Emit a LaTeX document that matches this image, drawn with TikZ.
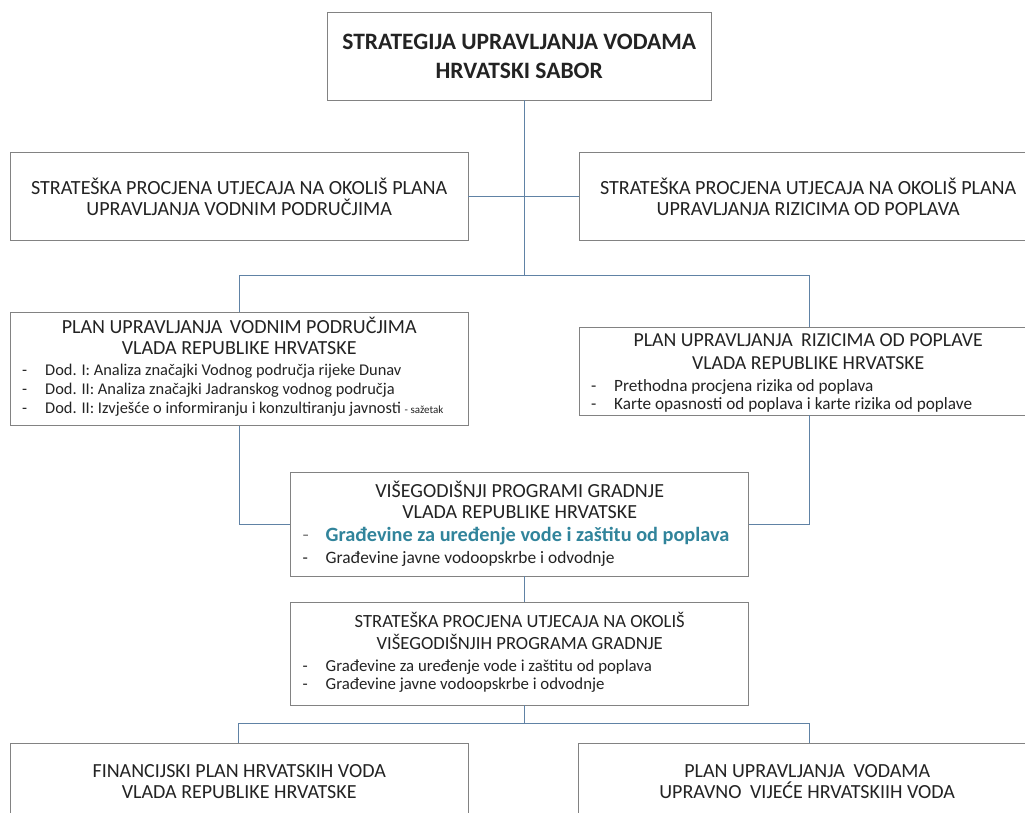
\documentclass[tikz,border=0pt]{standalone}
\usepackage{fontspec}
\setmainfont{Carlito}
\definecolor{boxgray}{RGB}{130,130,130}
\definecolor{linkblue}{RGB}{96,130,165}
\definecolor{txt}{RGB}{35,35,35}
\definecolor{tealtxt}{RGB}{49,132,155}
\newcommand{\bitem}[1]{\par\noindent\hspace*{2pt}\makebox[23pt][l]{-}#1}
\newcommand{\tblock}[2]{\vtop{\hsize=#1\parindent=0pt\parskip=0pt #2\par}}
\tikzset{
  box/.style={draw=boxgray, line width=0.9pt, fill=white, inner sep=0pt,
    minimum width=458pt, minimum height=88pt},
  lbl/.style={inner sep=0pt, anchor=base west, text=txt},
  link/.style={draw=linkblue, line width=0.9pt}
}
\begin{document}
\begin{tikzpicture}[x=1pt,y=-1pt]
\useasboundingbox (0,0) rectangle (1025,812);
\fill[white] (0,0) rectangle (1025,812);
\clip (0,0) rectangle (1025,812);
\coordinate (sp) at (524,0);
\coordinate (h1) at (524,275);
\coordinate (h1l) at (239,275);
\coordinate (h1r) at (809,275);
\coordinate (m1l) at (239,524);
\coordinate (m1r) at (809,524);
\coordinate (h2) at (524,723);
\coordinate (h2l) at (238,723);
\coordinate (h2r) at (809,723);

% boxes
\node[box, minimum width=384pt] (top) at (519,56) {};
\node[box] (sl) at (239,196) {};
\node[box] (sr) at (808,196) {};
\node[box, minimum height=113pt] (pl) at (239,369) {};
\node[box] (pr) at (808,371) {};
\node[box, minimum height=104pt] (vp) at (519.5,524) {};
\node[box, minimum height=103pt] (sv) at (519.5,653.5) {};
\node[box] (fp) at (239,787) {};
\node[box] (pv) at (807,787) {};

% texts
\node[lbl] (ttop) at (337,49) {\tblock{364pt}{\centering\fontsize{23.5}{29}\selectfont\bfseries
  STRATEGIJA UPRAVLJANJA VODAMA\\HRVATSKI SABOR}};

\node[lbl] (tsl) at (20,194) {\tblock{438pt}{\centering\fontsize{20.1}{21}\selectfont
  STRATEŠKA PROCJENA UTJECAJA NA OKOLIŠ PLANA\\UPRAVLJANJA VODNIM PODRUČJIMA}};
\node[lbl] (tsr) at (589,194) {\tblock{438pt}{\centering\fontsize{20.1}{21}\selectfont
  STRATEŠKA PROCJENA UTJECAJA NA OKOLIŠ PLANA\\UPRAVLJANJA RIZICIMA OD POPLAVA}};

\node[lbl] (tpl) at (20,333) {\tblock{438pt}{{\centering\fontsize{20}{21}\selectfont
  PLAN UPRAVLJANJA\hspace{3pt} VODNIM PODRUČJIMA\\VLADA REPUBLIKE HRVATSKE\par}
  \fontsize{16.4}{19}\selectfont\vspace{2pt}
  \bitem{Dod. I: Analiza značajki Vodnog područja rijeke Dunav}
  \bitem{Dod. II: Analiza značajki Jadranskog vodnog područja}
  \bitem{Dod. II: Izvješće o informiranju i konzultiranju javnosti {\fontsize{11}{12}\selectfont - sažetak}}}};

\node[lbl] (tpr) at (589,346) {\tblock{438pt}{{\centering\fontsize{19.8}{23}\selectfont
  PLAN UPRAVLJANJA\hspace{4pt} RIZICIMA OD POPLAVE\\VLADA REPUBLIKE HRVATSKE\par}
  \fontsize{17.2}{18}\selectfont\vspace{4pt}
  \bitem{Prethodna procjena rizika od poplava}
  \bitem{Karte opasnosti od poplava i karte rizika od poplave}}};

\node[lbl] (tvp) at (300.5,497) {\tblock{438pt}{{\centering\fontsize{20}{21}\selectfont
  VIŠEGODIŠNJI PROGRAMI GRADNJE\\VLADA REPUBLIKE HRVATSKE\par}
  {\fontsize{20.3}{23}\selectfont\par\noindent\hspace*{2pt}\makebox[23pt][l]{\color{boxgray}-}{\color{tealtxt}\bfseries Građevine za uređenje vode i zaštitu od poplava}\par}
  {\fontsize{17.4}{22}\selectfont\bitem{Građevine javne vodoopskrbe i odvodnje}\par}}};

\node[lbl] (tsv) at (300.5,627) {\tblock{438pt}{{\centering\fontsize{18.6}{22}\selectfont
  STRATEŠKA PROCJENA UTJECAJA NA OKOLIŠ\\VIŠEGODIŠNJIH PROGRAMA GRADNJE\par}
  \fontsize{16.8}{18}\selectfont\vspace{4pt}
  \bitem{Građevine za uređenje vode i zaštitu od poplava}
  \bitem{Građevine javne vodoopskrbe i odvodnje}}};

\node[lbl] (tfp) at (20,777) {\tblock{438pt}{\centering\fontsize{20}{21}\selectfont
  FINANCIJSKI PLAN HRVATSKIH VODA\\VLADA REPUBLIKE HRVATSKE}};
\node[lbl] (tpv) at (588,777) {\tblock{438pt}{\centering\fontsize{20}{21}\selectfont
  PLAN UPRAVLJANJA\hspace{4pt} VODAMA\\UPRAVNO\hspace{4pt} VIJEĆE HRVATSKIIH VODA}};

% connectors
\draw[link] (top.south -| sp) -- (h1);
\draw[link] (sl.east) -- (sr.west);
\draw[link] (h1l) -- (h1r);
\draw[link] (h1l) -- (pl.north -| h1l);
\draw[link] (h1r) -- (pr.north -| h1r);
\draw[link] (pl.south -| h1l) -- (m1l) -- (vp.west |- m1l);
\draw[link] (pr.south -| h1r) -- (m1r) -- (vp.east |- m1r);
\draw[link] (vp.south -| sp) -- (sv.north -| sp);
\draw[link] (sv.south -| sp) -- (h2);
\draw[link] (h2l) -- (h2r);
\draw[link] (h2l) -- (fp.north -| h2l);
\draw[link] (h2r) -- (pv.north -| h2r);
\end{tikzpicture}
\end{document}
